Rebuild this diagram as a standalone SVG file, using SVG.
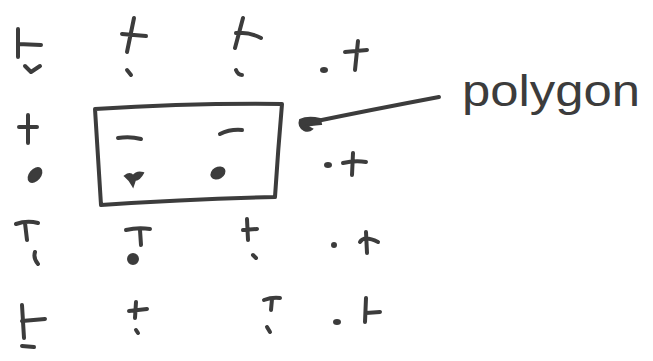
<svg xmlns="http://www.w3.org/2000/svg" width="653" height="361" viewBox="0 0 653 361">
<style>
.m{fill:none;stroke:#3c3c3c;stroke-width:4;stroke-linecap:round;stroke-linejoin:round}
.d{fill:#3c3c3c;stroke:#3c3c3c;stroke-width:2}
.lbl{font-family:"Liberation Sans",Arial,sans-serif;font-size:44px;fill:#3c3c3c}
</style>
<rect width="653" height="361" fill="#ffffff"/>
<g id="marks">
<path class="m" d="M18 29 L18 57 M18 44 L41 45 M25 66 L31 72 L40 66"/>
<path class="m" d="M134 18 L127 52 M122 34 L146 36 M127 70 L131 75"/>
<path class="m" d="M243 18 L235 48 M236 33 Q250 32 261 38 M236 70 Q238 75 242 75"/>
<ellipse class="d" cx="324" cy="70" rx="3" ry="2"/>
<path class="m" d="M358 41 L355 70 M345 52 L367 50"/>
<path class="m" d="M28 115 L28 143 M19 127 L37 127"/>
<ellipse class="d" cx="35" cy="175" rx="8" ry="5" transform="rotate(-50 35 175)"/>
<ellipse class="d" cx="328" cy="165" rx="3" ry="2"/>
<path class="m" d="M353 153 L352 175 M343 163 Q355 160 366 162"/>
<path class="m" d="M16 224 Q27 220 38 223 M25 223 L27 240 M35 252 Q33 258 38 264"/>
<path class="m" d="M126 230 Q138 227 150 229 M140 230 L141 245"/>
<circle class="d" cx="133" cy="259" r="5"/>
<path class="m" d="M247 219 L248 240 M243 230 L257 229 M253 255 L256 258"/>
<ellipse class="d" cx="334" cy="245" rx="2" ry="2"/>
<path class="m" d="M366 232 L367 253 M360 242 Q364 235 378 242"/>
<path class="m" d="M22 305 L24 338 M22 321 L45 319 M22 346 L34 347"/>
<path class="m" d="M136 302 L135 318 M129 311 L147 309 M136 330 L138 333"/>
<path class="m" d="M264 300 Q272 297 280 298 M272 299 L271 310 M267 327 L270 332"/>
<ellipse class="d" cx="337" cy="322" rx="3" ry="2"/>
<path class="m" d="M366 298 L365 322 M366 313 L380 312"/>
</g>
<g id="polygon">
<path class="m" d="M95 109 Q190 103 282 104 Q278 150 275 197 Q190 199 101 205 Q98 160 95 109 Z"/>
<path class="m" d="M118 138 Q130 136 141 139"/>
<path class="m" d="M220 134 Q230 129 242 130"/>
<path class="d" d="M125 176 Q130 172 133 176 Q137 171 143 173 Q140 179 135 180 L133 186 Q130 180 125 176 Z"/>
<ellipse class="d" cx="218" cy="173" rx="7" ry="5" transform="rotate(-30 218 173)"/>
</g>
<g id="connectors">
<path class="m" d="M439 97 Q370 110 312 122"/>
<path class="d" d="M300 120 Q308 116 320 119 L321 124 Q310 125 306 126 L312 129 Q309 132 304 130 Q298 126 300 120 Z"/>
</g>
<g id="label">
<text class="lbl" x="462" y="106" textLength="178" lengthAdjust="spacingAndGlyphs">polygon</text>
</g>
</svg>
